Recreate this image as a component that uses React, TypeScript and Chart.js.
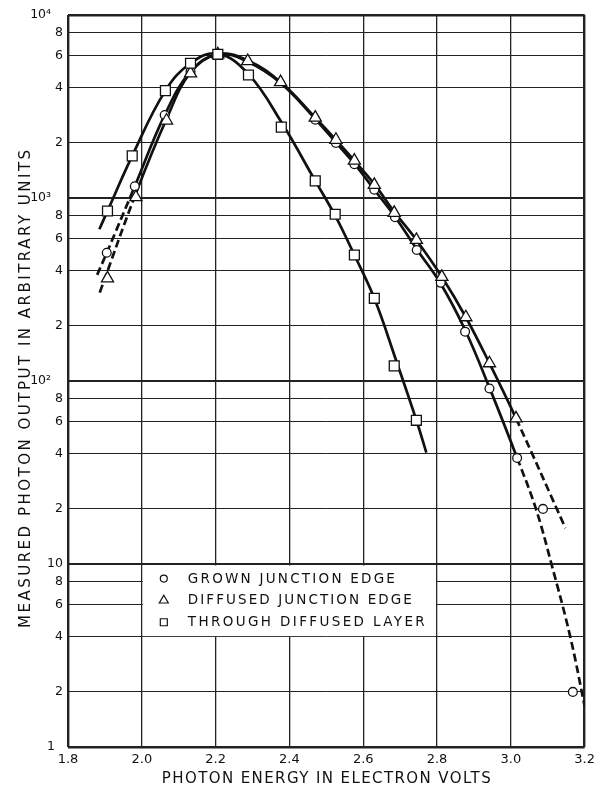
import React, { useEffect, useRef } from 'react';
import { Chart, registerables } from 'chart.js';

Chart.register(...registerables);

// ---------------- data ----------------
const xTickValues = [1.8, 2.0, 2.2, 2.4, 2.6, 2.8, 3.0, 3.2];
const yTickValues = [1, 2, 4, 6, 8, 10, 20, 40, 60, 80, 100, 200, 400, 600, 800, 1000, 2000, 4000, 6000, 8000, 10000];
const yTickLabels = ['1  ', '2', '4', '6', '8', '10', '2', '4', '6', '8', '10²   ', '2', '4', '6', '8', '10³   ', '2', '4', '6', '8', '10⁴   '];

const seriesNames = ['GROWN JUNCTION EDGE', 'DIFFUSED JUNCTION EDGE', 'THROUGH DIFFUSED LAYER'];
const xTitle = 'PHOTON ENERGY IN ELECTRON VOLTS';
const yTitle = 'MEASURED PHOTON OUTPUT IN ARBITRARY UNITS';

// measured points (markers)
const grownX = [1.905, 1.981, 2.062, 2.132, 2.206, 2.470, 2.526, 2.576, 2.630, 2.686, 2.745, 2.810, 2.876, 2.942, 3.017, 3.087, 3.168];
const grownY = [502, 1160, 2840, 4900, 6100, 2680, 2000, 1530, 1110, 785, 520, 344, 186, 91, 38, 20, 2];

const diffusedX = [1.907, 1.984, 2.067, 2.132, 2.206, 2.287, 2.376, 2.470, 2.526, 2.576, 2.630, 2.684, 2.744, 2.813, 2.878, 2.942, 3.014];
const diffusedY = [364, 1010, 2650, 4800, 6100, 5600, 4300, 2750, 2080, 1600, 1180, 830, 590, 371, 223, 125, 62.5];

const throughX = [1.907, 1.974, 2.064, 2.132, 2.206, 2.289, 2.378, 2.470, 2.524, 2.576, 2.630, 2.684, 2.744];
const throughY = [849, 1700, 3860, 5450, 6100, 4700, 2440, 1240, 815, 488, 283, 121, 61];

// drawn curves
const grownCurveX = [1.879, 1.905, 1.981, 2.062, 2.132, 2.206, 2.287, 2.376, 2.470, 2.526, 2.576, 2.630, 2.686, 2.745, 2.810, 2.876, 2.942, 3.017, 3.068, 3.110, 3.161, 3.200];
const grownCurveY = [380, 502, 1160, 2840, 4900, 6100, 5550, 4250, 2700, 2010, 1540, 1110, 790, 525, 340, 190, 92, 38, 20, 10, 4, 1.67];
const grownDash = [1.981, 3.017]; // dashed before / after these x values

const diffusedCurveX = [1.886, 1.984, 2.067, 2.132, 2.206, 2.287, 2.376, 2.470, 2.526, 2.576, 2.630, 2.684, 2.744, 2.813, 2.878, 2.942, 3.014, 3.148];
const diffusedCurveY = [304, 1060, 2700, 4850, 6100, 5650, 4300, 2750, 2080, 1600, 1190, 840, 590, 371, 223, 125, 62.5, 15.7];
const diffusedDash = [1.984, 3.014];

const throughCurveX = [1.885, 1.907, 1.974, 2.064, 2.132, 2.206, 2.289, 2.378, 2.470, 2.524, 2.576, 2.630, 2.690, 2.744, 2.771];
const throughCurveY = [675, 849, 1700, 3860, 5450, 6150, 4750, 2600, 1240, 800, 488, 283, 128, 61, 40.6];

// ---------------- helpers ----------------
const FONT = "'DejaVu Sans', 'Liberation Sans', sans-serif";
const INK = '#111';

const zip = (xs: number[], ys: number[]) => xs.map((x, i) => ({ x, y: ys[i] }));

function markerSet(xs: number[], ys: number[], style: string, radius: number) {
  return {
    data: zip(xs, ys),
    showLine: false,
    pointStyle: style,
    pointRadius: radius,
    pointBackgroundColor: '#fff',
    pointBorderColor: INK,
    pointBorderWidth: 1.3,
    order: 0,
  };
}

function curveSet(xs: number[], ys: number[], dash: number[] | null) {
  return {
    data: zip(xs, ys),
    showLine: true,
    pointRadius: 0,
    borderColor: INK,
    borderWidth: 2.7,
    tension: 0.4,
    fill: false,
    order: 2,
    segment: dash
      ? {
          borderDash: (c: any) =>
            c.p1.parsed.x <= dash[0] + 1e-9 || c.p0.parsed.x >= dash[1] - 1e-9 ? [8, 4] : undefined,
        }
      : undefined,
  };
}

function drawMarker(ctx: CanvasRenderingContext2D, kind: number, x: number, y: number) {
  ctx.beginPath();
  if (kind === 0) {
    ctx.arc(x, y, 3.5, 0, Math.PI * 2);
  } else if (kind === 1) {
    const r = 5.2;
    ctx.moveTo(x, y - r);
    ctx.lineTo(x + r * 0.866, y + r * 0.5);
    ctx.lineTo(x - r * 0.866, y + r * 0.5);
    ctx.closePath();
  } else {
    ctx.rect(x - 3.5, y - 3.5, 7, 7);
  }
  ctx.fillStyle = '#fff';
  ctx.fill();
  ctx.lineWidth = 1.2;
  ctx.strokeStyle = INK;
  ctx.stroke();
}

function drawSpaced(
  ctx: CanvasRenderingContext2D,
  text: string,
  x: number,
  y: number,
  width: number,
  font: string,
  align: 'left' | 'center',
  rotate: boolean
) {
  ctx.save();
  ctx.font = font;
  (ctx as any).letterSpacing = '0px';
  const w0 = ctx.measureText(text).width;
  const ls = Math.max(0, (width - w0) / Math.max(1, text.length - 1));
  (ctx as any).letterSpacing = ls.toFixed(2) + 'px';
  ctx.translate(x, y);
  if (rotate) ctx.rotate(-Math.PI / 2);
  ctx.fillStyle = INK;
  ctx.textAlign = 'left';
  ctx.textBaseline = 'middle';
  ctx.fillText(text, align === 'center' ? -width / 2 : 0, 0);
  ctx.restore();
}

const decorPlugin = {
  id: 'decor',
  beforeDatasetsDraw(chart: any) {
    const { ctx, scales } = chart;
    const l = scales.x.getPixelForValue(2.0);
    const r = scales.x.getPixelForValue(2.8);
    const t = scales.y.getPixelForValue(10);
    const b = scales.y.getPixelForValue(4);
    ctx.save();
    ctx.fillStyle = '#fff';
    ctx.fillRect(l + 1, t + 1.5, r - l - 2, b - t - 2.2);
    ctx.restore();
  },
  afterDraw(chart: any) {
    const { ctx, scales, chartArea } = chart;
    const l = scales.x.getPixelForValue(2.0);
    const t = scales.y.getPixelForValue(10);
    const b = scales.y.getPixelForValue(4);
    const rows = [0.2, 0.5, 0.8];
    const widths = [207, 224, 237];
    seriesNames.forEach((name, i) => {
      const yy = t + (b - t) * rows[i];
      ctx.save();
      drawMarker(ctx, i, l + 22, yy);
      ctx.restore();
      drawSpaced(ctx, name, l + 46, yy + 0.5, widths[i], `13.5px ${FONT}`, 'left', false);
    });
    const cx = (chartArea.left + chartArea.right) / 2;
    drawSpaced(ctx, xTitle, cx, chartArea.bottom + 32, 329, `15px ${FONT}`, 'center', false);
    const cy = (chartArea.top + chartArea.bottom) / 2 + 8;
    drawSpaced(ctx, yTitle, 26, cy, 478, `15px ${FONT}`, 'center', true);
  },
};

export default function App() {
  const ref = useRef<HTMLCanvasElement>(null);

  useEffect(() => {
    if (!ref.current) return;
    const chart = new Chart(ref.current, {
      type: 'line',
      data: {
        datasets: [
          curveSet(throughCurveX, throughCurveY, null),
          curveSet(diffusedCurveX, diffusedCurveY, diffusedDash),
          curveSet(grownCurveX, grownCurveY, grownDash),
          markerSet(throughX, throughY, 'rect', 7),
          markerSet(diffusedX, diffusedY, 'triangle', 7),
          markerSet(grownX, grownY, 'circle', 4.4),
        ] as any,
      },
      options: {
        animation: false,
        responsive: false,
        devicePixelRatio: 1,
        layout: { padding: { left: 0, right: 14, top: 15, bottom: 0 } },
        plugins: {
          legend: { display: false },
          tooltip: { enabled: false },
        },
        scales: {
          x: {
            type: 'linear',
            min: 1.8,
            max: 3.2,
            afterBuildTicks: (s: any) => {
              s.ticks = xTickValues.map((v) => ({ value: v }));
            },
            afterFit: (s: any) => {
              s.height = 41;
            },
            border: { display: false },
            grid: {
              drawTicks: false,
              color: '#222',
              lineWidth: (c: any) =>
                c.tick && (Math.abs(c.tick.value - 1.8) < 1e-6 || Math.abs(c.tick.value - 3.2) < 1e-6) ? 2.4 : 1.3,
            },
            ticks: {
              autoSkip: false,
              maxRotation: 0,
              padding: 5,
              color: INK,
              font: { family: FONT, size: 13 },
              callback: (v: any) => Number(v).toFixed(1),
            },
          },
          y: {
            type: 'logarithmic',
            min: 1,
            max: 10000,
            afterBuildTicks: (s: any) => {
              s.ticks = yTickValues.map((v) => ({ value: v }));
            },
            afterFit: (s: any) => {
              s.width = 68;
            },
            border: { display: false },
            grid: {
              drawTicks: false,
              color: '#222',
              lineWidth: (c: any) => {
                if (!c.tick) return 1;
                const v = c.tick.value;
                if (v === 1 || v === 10000) return 2.4;
                const lg = Math.log10(v);
                return Math.abs(lg - Math.round(lg)) < 1e-9 ? 2.1 : 1;
              },
            },
            ticks: {
              autoSkip: false,
              padding: 5,
              color: INK,
              font: { family: FONT, size: 12.5 },
              callback: (_v: any, i: number) => yTickLabels[i],
            },
          },
        },
      } as any,
      plugins: [decorPlugin],
    });
    return () => chart.destroy();
  }, []);

  return (
    <div style={{ position: 'absolute', left: 0, top: 0, width: 600, height: 788, background: '#fff' }}>
      <canvas ref={ref} width={600} height={788} style={{ display: 'block', width: 600, height: 788 }} />
    </div>
  );
}
